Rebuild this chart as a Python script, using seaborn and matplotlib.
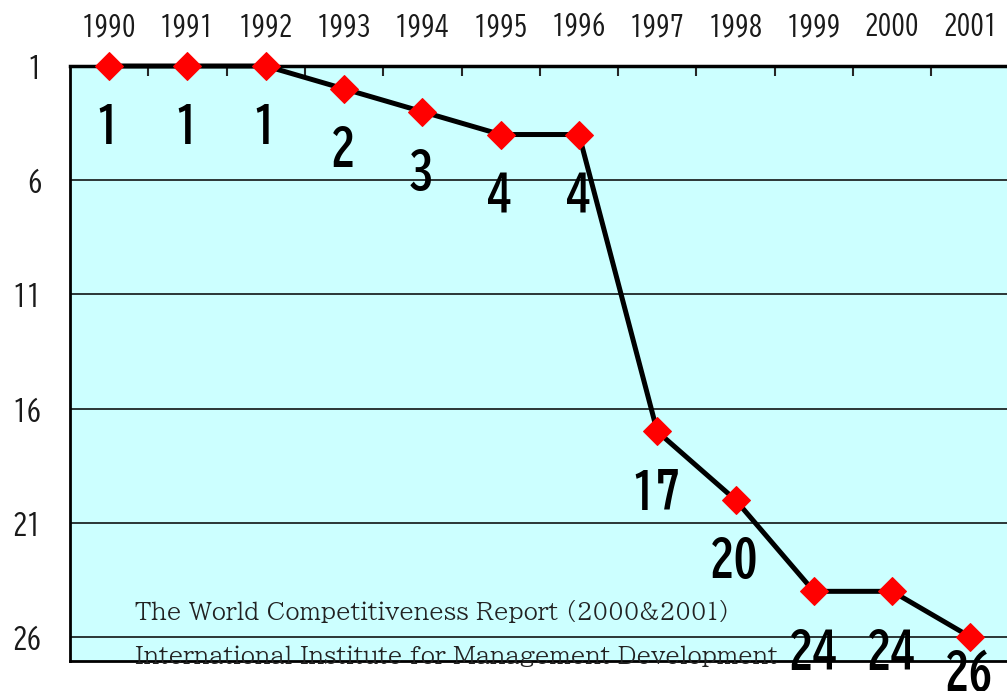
import matplotlib
matplotlib.use('Agg')
import matplotlib.pyplot as plt
import seaborn as sns
import pandas as pd
from matplotlib.ticker import FixedLocator

# IMD World Competitiveness ranking of Japan
years = [1990, 1991, 1992, 1993, 1994, 1995, 1996, 1997, 1998, 1999, 2000, 2001]
ranks = [1, 1, 1, 2, 3, 4, 4, 17, 20, 24, 24, 26]
y_ticks = [1, 6, 11, 16, 21, 26]
source_lines = ['The World Competitiveness Report (2000&2001)',
                'International Institute for Management Development']

BG = '#ccffff'
GOTHIC = ['BIZ UDGothic', 'DejaVu Sans']
MINCHO = ['BIZ UDPMincho', 'DejaVu Serif']

sns.set_style('white')
plt.rcParams['font.family'] = GOTHIC

df = pd.DataFrame({'year': years, 'rank': ranks})

fig = plt.figure(figsize=(10.07, 6.91), dpi=100)
ax = fig.add_axes([70 / 1007, 1 - 661 / 691, 939.6 / 1007, 595 / 691])
ax.set_facecolor(BG)

sns.lineplot(data=df, x='year', y='rank', ax=ax, color='black', lw=3.6,
             marker='D', markersize=14, markerfacecolor='red',
             markeredgecolor='red', zorder=5, clip_on=False)

ax.set_xlim(1989.5, 2001.5)
ax.set_ylim(27.05, 1)
ax.set_xlabel('')
ax.set_ylabel('')

# years on top, boundary ticks pointing inward
ax.xaxis.set_ticks_position('top')
ax.set_xticks(years)
ax.set_xticklabels([str(y) for y in years], fontsize=19.5)
ax.tick_params(axis='x', which='major', length=0, pad=20, colors='#1a1a1a')
ax.xaxis.set_minor_locator(FixedLocator([y + 0.5 for y in years[:-1]]))
ax.tick_params(axis='x', which='minor', direction='in', length=7, width=1.5,
               top=True, bottom=False)

ax.set_yticks(y_ticks)
ax.set_yticklabels([str(v) for v in y_ticks], fontsize=21)
ax.tick_params(axis='y', length=0, pad=20, colors='#1a1a1a')
for v in y_ticks[1:]:
    ax.axhline(v, color='black', lw=1.1, zorder=1)

for side in ['left', 'bottom', 'top']:
    ax.spines[side].set_visible(True)
    ax.spines[side].set_color('black')
ax.spines['left'].set_linewidth(2)
ax.spines['bottom'].set_linewidth(2)
ax.spines['top'].set_linewidth(2.5)

# source text, sitting inside the plot area near the bottom
for i, line in enumerate(source_lines):
    ax.text(1990.33, 24.9 + i * 1.93, line, family=MINCHO, fontsize=16.7,
            color='#222222', ha='left', va='center', zorder=3, clip_on=False)

# data labels under each point (last one pulled up by the plot edge)
for i, (x, r) in enumerate(zip(years, ranks)):
    dy = -25.6 if i == len(ranks) - 1 else -43.2
    ax.annotate(str(r), (x, r), xytext=(-0.8, dy), textcoords='offset points',
                ha='center', va='center', fontsize=35, fontweight='bold',
                family=GOTHIC, color='black', zorder=6, annotation_clip=False)

fig.savefig('out.png', dpi=100)
